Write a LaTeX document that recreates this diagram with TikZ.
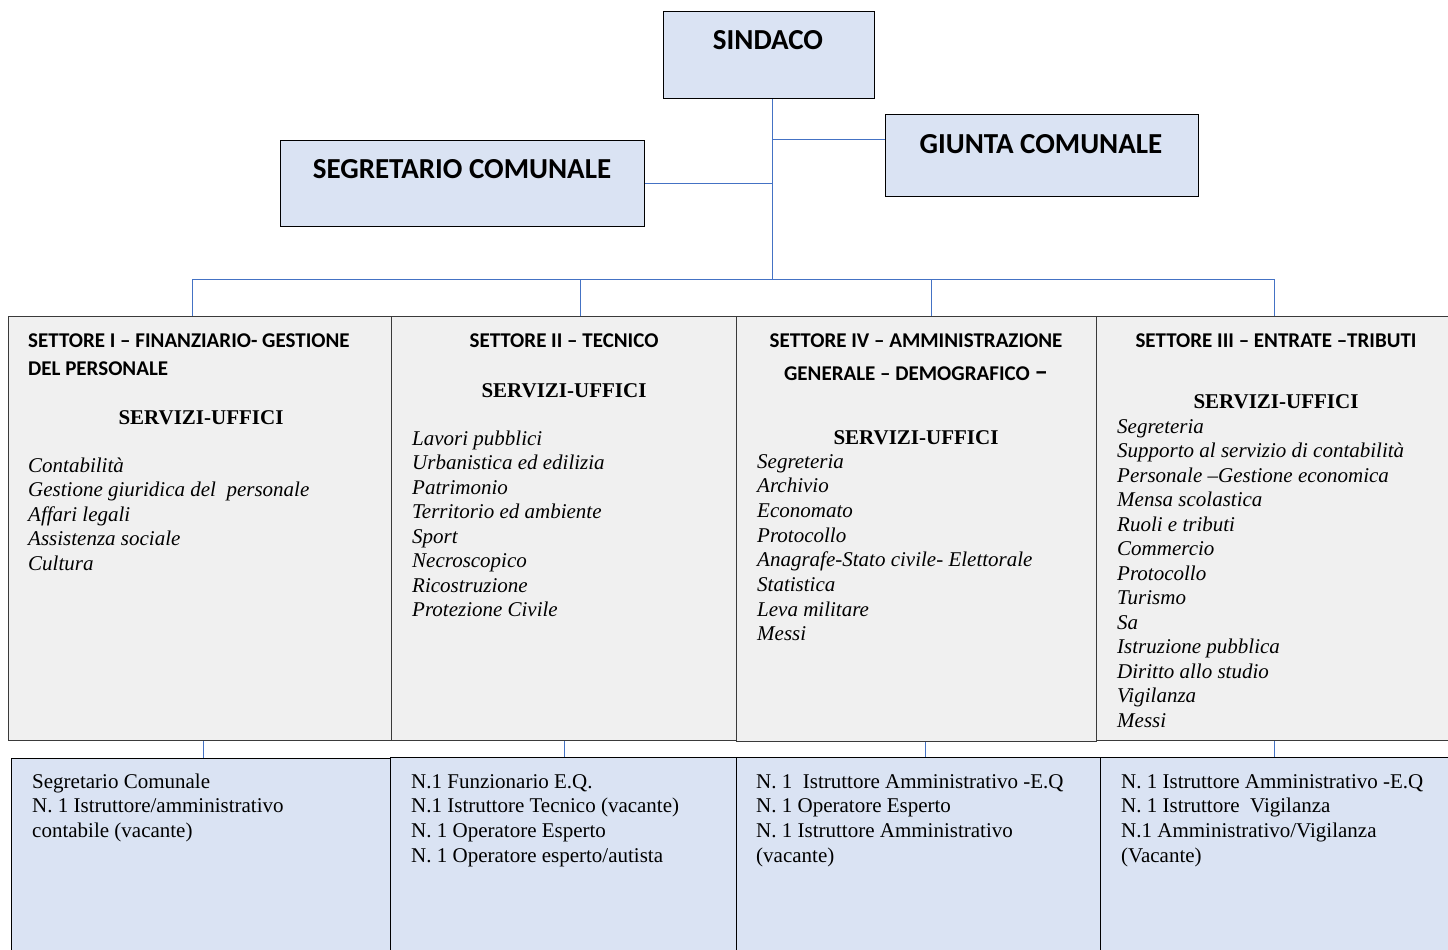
\documentclass[tikz,border=0pt]{standalone}
\usepackage{fontspec}
\setmainfont{Liberation Serif}
\newfontfamily\hdfont{Carlito}
\usetikzlibrary{positioning}
\definecolor{boxblue}{HTML}{DAE3F3}
\definecolor{boxgrey}{HTML}{F0F0F0}
\definecolor{linkblue}{HTML}{4472C4}
\definecolor{edgegrey}{HTML}{3A3A3A}
\newcommand{\rows}[2][l]{\begin{tabular}[t]{@{}#1@{}}#2\end{tabular}}
\tikzset{
  box/.style={draw=black, line width=1.3pt, fill=boxblue, inner sep=0pt,
    anchor=north west},
  settore/.style={box, draw=edgegrey, fill=boxgrey},
  link/.style={draw=linkblue, line width=0.9pt},
  toptxt/.style={anchor=base, inner sep=0pt,
    font=\hdfont\bfseries\fontsize{29}{29}\selectfont},
  head/.style={anchor=base, inner sep=0pt,
    font=\hdfont\bfseries\fontsize{21}{28}\selectfont},
  servizi/.style={anchor=base, inner sep=0pt,
    font=\bfseries\fontsize{21}{21}\selectfont},
  items/.style={anchor=base west, inner sep=0pt,
    font=\itshape\fontsize{21}{24.5}\selectfont},
  staff/.style={anchor=base west, inner sep=0pt,
    font=\fontsize{21}{24.7}\selectfont}
}
\frenchspacing

\begin{document}
\begin{tikzpicture}[x=1pt, y=-1pt]
  \useasboundingbox (0,0) rectangle (1448,950);

  % vertici
  \node[box, minimum width=211pt, minimum height=87pt] (sindaco) at (663,11) {};
  \node[box, minimum width=313pt, minimum height=82pt] (giunta) at (885,114) {};
  \node[box, minimum width=364pt, minimum height=86pt] (segretario) at (280,140) {};
  \node[toptxt] (sindacot) at (768,49) {SINDACO};
  \node[toptxt] (giuntat) at (1041,153) {GIUNTA COMUNALE};
  \node[toptxt] (segretariot) at (462,178) {SEGRETARIO COMUNALE};

  % settori
  \node[settore, minimum width=383pt, minimum height=424pt] (s1) at (8,316) {};
  \node[settore, minimum width=345pt, minimum height=424pt] (s2) at (391,316) {};
  \node[settore, minimum width=360pt, minimum height=425pt] (s3) at (736,316) {};
  \node[settore, minimum width=356pt, minimum height=424pt] (s4) at (1096,316) {};

  % personale
  \node[box, minimum width=379pt, minimum height=200pt] (b1) at (11,758) {};
  \node[box, minimum width=346pt, minimum height=200pt] (b2) at (390,757) {};
  \node[box, minimum width=364pt, minimum height=200pt] (b3) at (736,757) {};
  \node[box, minimum width=356pt, minimum height=200pt] (b4) at (1100,757) {};

  % collegamenti
  \coordinate (bus) at (772,279);
  \draw[link] ([xshift=3.5pt]sindaco.south) -- ([xshift=3.5pt]sindaco.south |- bus);
  \draw[link, line width=1.6pt] (segretario.east) -- (segretario.east -| bus);
  \draw[link, line width=1.6pt] ([yshift=16pt]giunta.west) -- ([yshift=16pt]giunta.west -| bus);
  \draw[link] ([xshift=-7.5pt]s1.north |- bus) -- (s4.north |- bus);
  \draw[link] ([xshift=-7.5pt]s1.north) -- ([xshift=-7.5pt]s1.north |- bus);
  \draw[link] ([xshift=16.5pt]s2.north) -- ([xshift=16.5pt]s2.north |- bus);
  \draw[link] ([xshift=15pt]s3.north) -- ([xshift=15pt]s3.north |- bus);
  \draw[link] (s4.north) -- (s4.north |- bus);
  \draw[link] ([xshift=3.5pt]s1.south) -- ([xshift=3.5pt]s1.south |- b1.north);
  \draw[link] (s2.south) -- (s2.south |- b2.north);
  \draw[link] ([xshift=8.5pt]s3.south) -- ([xshift=8.5pt]s3.south |- b3.north);
  \draw[link] (s4.south) -- (s4.south |- b4.north);

  % settore I
  \node[head, anchor=base west] (h1) at (28,347)
    {\rows{SETTORE I – FINANZIARIO- GESTIONE\\DEL PERSONALE}};
  \node[servizi] (u1) at (201,424) {SERVIZI-UFFICI};
  \node[items] (l1) at (28,472) {\rows{Contabilità\\Gestione giuridica del~ personale\\
    Affari legali\\Assistenza sociale\\Cultura}};

  % settore II
  \node[head] (h2) at (564,347) {SETTORE II – TECNICO};
  \node[servizi] (u2) at (564,397) {SERVIZI-UFFICI};
  \node[items] (l2) at (412,445) {\rows{Lavori pubblici\\Urbanistica ed edilizia\\
    Patrimonio\\Territorio ed ambiente\\Sport\\Necroscopico\\Ricostruzione\\
    Protezione Civile}};

  % settore IV
  \node[head, font=\hdfont\bfseries\fontsize{21}{33}\selectfont] (h3) at (916,347)
    {\rows[c]{SETTORE IV – AMMINISTRAZIONE\\GENERALE – DEMOGRAFICO {\fontsize{27}{27}\selectfont –}}};
  \node[servizi] (u3) at (916,444) {SERVIZI-UFFICI};
  \node[items, font=\itshape\fontsize{21}{24.7}\selectfont] (l3) at (757,468)
    {\rows{Segreteria\\Archivio\\Economato\\Protocollo\\
    Anagrafe-Stato civile- Elettorale\\Statistica\\Leva militare\\Messi}};

  % settore III
  \node[head] (h4) at (1276,347) {SETTORE III – ENTRATE –TRIBUTI};
  \node[servizi] (u4) at (1276,408) {SERVIZI-UFFICI};
  \node[items] (l4) at (1117,433) {\rows{Segreteria\\
    Supporto al servizio di contabilità\\Personale –Gestione economica\\
    Mensa scolastica\\Ruoli e tributi\\Commercio\\Protocollo\\Turismo\\Sa\\
    Istruzione pubblica\\Diritto allo studio\\Vigilanza\\Messi}};

  % dotazione
  \node[staff] (p1) at (32,788) {\rows{Segretario Comunale\\
    N. 1 Istruttore/amministrativo\\contabile (vacante)}};
  \node[staff] (p2) at (411,788) {\rows{N.1 Funzionario E.Q.\\
    N.1 Istruttore Tecnico (vacante)\\N. 1 Operatore Esperto\\
    N. 1 Operatore esperto/autista}};
  \node[staff] (p3) at (756,788) {\rows{N. 1~ Istruttore Amministrativo -E.Q\\
    N. 1 Operatore Esperto\\N. 1 Istruttore Amministrativo\\(vacante)}};
  \node[staff] (p4) at (1121,788) {\rows{N. 1 Istruttore Amministrativo -E.Q\\
    N. 1 Istruttore~ Vigilanza\\N.1 Amministrativo/Vigilanza\\(Vacante)}};
\end{tikzpicture}
\end{document}
